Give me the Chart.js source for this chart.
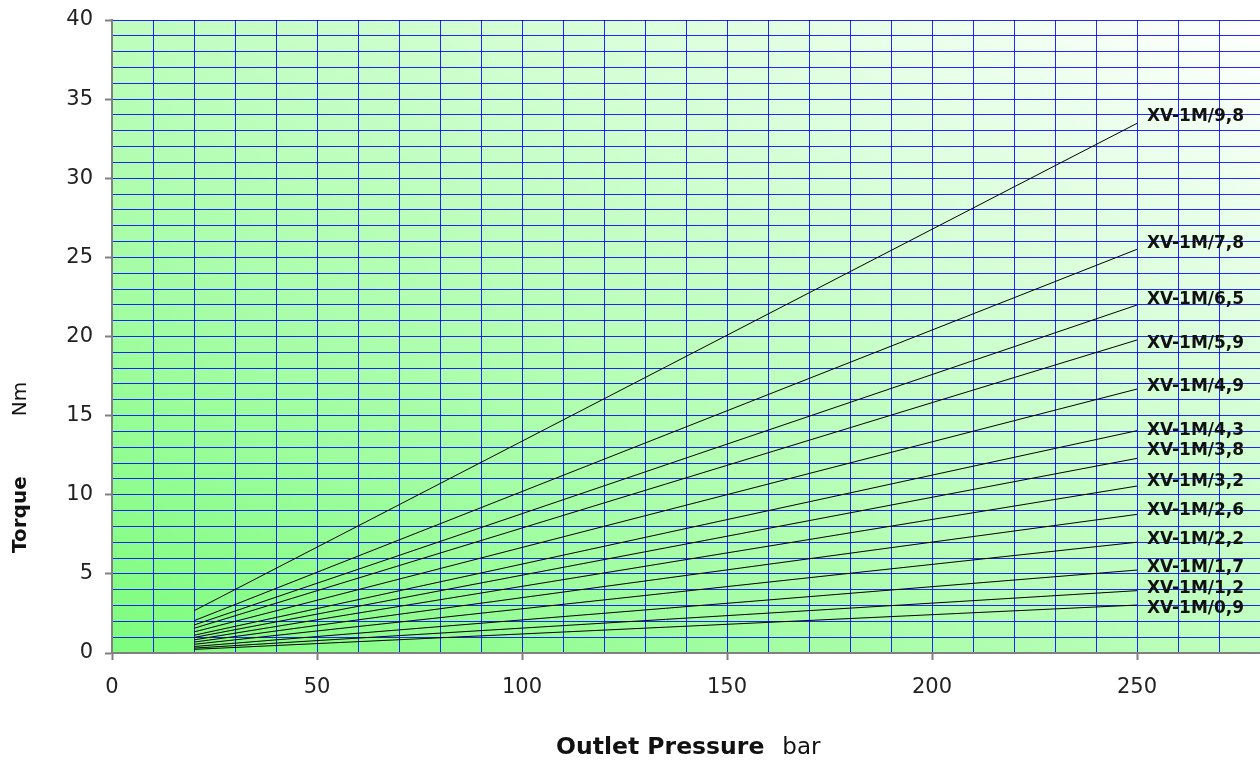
<!DOCTYPE html>
<html>
<head>
<meta charset="utf-8">
<title>Torque vs Outlet Pressure</title>
<script src="https://cdn.jsdelivr.net/npm/chart.js@4"></script>
<style>
    html, body { margin: 0; padding: 0; background: #fff; }
    #wrap { width: 1260px; height: 763px; position: relative; }
</style>
</head>
<body>
<div id="wrap"><canvas id="torque-chart"></canvas></div>
<script>
// ── Data ──────────────────────────────────────────
const pressures = [20, 250];   // bar

const models = [
    'XV-1M/9,8', 'XV-1M/7,8', 'XV-1M/6,5', 'XV-1M/5,9', 'XV-1M/4,9',
    'XV-1M/4,3', 'XV-1M/3,8', 'XV-1M/3,2', 'XV-1M/2,6', 'XV-1M/2,2',
    'XV-1M/1,7', 'XV-1M/1,2', 'XV-1M/0,9'
];

// torque (Nm) at 20 bar and at 250 bar
const torqueAt20  = [2.67, 2.04, 1.77, 1.56, 1.33, 1.12, 0.98, 0.83, 0.69, 0.55, 0.41, 0.31, 0.23];
const torqueAt250 = [33.47, 25.51, 21.99, 19.78, 16.68, 14.05, 12.30, 10.55, 8.76, 7.00, 5.24, 3.94, 3.03];

// where each model label sits (Nm), as placed in the reference
const labelTorque = [34.0, 26.0, 22.43, 19.67, 16.94, 14.15, 12.89, 10.93, 9.10, 7.29, 5.50, 4.19, 2.91];

const xTickLabels = [0, 50, 100, 150, 200, 250];
const yTickLabels = [0, 5, 10, 15, 20, 25, 30, 35, 40];

const FONT = "'DejaVu Sans', Verdana, sans-serif";
const GRID_BLUE = 'rgba(0, 0, 255, 0.85)';
const AXIS_GREY = '#808080';

// ── Plugins ───────────────────────────────────────
const plotBackground = {
    id: 'plotBackground',
    beforeDraw(chart) {
        const { ctx, chartArea: a } = chart;
        ctx.save();
        // diagonal gradient in normalised plot space: green bottom-left -> white top-right
        ctx.translate(a.left, a.bottom);
        ctx.scale(a.right - a.left, -(a.bottom - a.top));
        const g = ctx.createLinearGradient(0, 0, 1, 1);
        g.addColorStop(0, '#7dfd7d');
        g.addColorStop(1, '#ffffff');
        ctx.fillStyle = g;
        ctx.fillRect(0, 0, 1, 1);
        ctx.restore();
    }
};

const seriesLabels = {
    id: 'seriesLabels',
    afterDatasetsDraw(chart) {
        const { ctx, scales: { x, y } } = chart;
        ctx.save();
        ctx.font = 'bold 17px ' + FONT;
        ctx.fillStyle = '#111';
        ctx.textAlign = 'left';
        ctx.textBaseline = 'middle';
        const lastP = pressures[pressures.length - 1];
        models.forEach((name, i) => {
            ctx.fillText(name, x.getPixelForValue(lastP) + 10, y.getPixelForValue(labelTorque[i]) + 2);
        });
        ctx.restore();
    }
};

function drawMixed(ctx, parts, startX, baseY) {
    let cx = startX;
    parts.forEach(p => {
        ctx.font = p.font;
        ctx.fillText(p.text, cx, baseY);
        cx += ctx.measureText(p.text).width + (p.gap || 0);
    });
}

const axisTitles = {
    id: 'axisTitles',
    afterDraw(chart) {
        const { ctx } = chart;
        ctx.save();
        ctx.fillStyle = '#111';
        ctx.textAlign = 'left';
        ctx.textBaseline = 'middle';

        // x title
        drawMixed(ctx, [
            { text: 'Outlet Pressure', font: 'bold 23.5px ' + FONT, gap: 18 },
            { text: 'bar', font: '23px ' + FONT }
        ], 556, 748);

        // y title (rotated)
        ctx.translate(21, 553);
        ctx.rotate(-Math.PI / 2);
        drawMixed(ctx, [
            { text: 'Torque', font: 'bold 20px ' + FONT, gap: 60 },
            { text: 'Nm', font: '20px ' + FONT }
        ], 0, 0);
        ctx.restore();
    }
};

// ── Chart ─────────────────────────────────────────
const datasets = models.map((name, i) => ({
    label: name,
    data: [
        { x: pressures[0], y: torqueAt20[i] },
        { x: pressures[1], y: torqueAt250[i] }
    ],
    borderColor: '#000',
    borderWidth: 1,
    pointRadius: 0,
    tension: 0,
    fill: false
}));

const tickFont = { size: 21, family: FONT };

new Chart(document.getElementById('torque-chart'), {
    type: 'line',
    data: { datasets },
    options: {
        responsive: true,
        maintainAspectRatio: false,
        animation: false,
        layout: { padding: { top: 20, right: 0, left: 0, bottom: 0 } },
        plugins: {
            legend: { display: false },
            tooltip: { enabled: false }
        },
        scales: {
            x: {
                type: 'linear',
                min: 0,
                max: 280,
                afterFit(scale) {
                    scale.height = 110;
                    scale.paddingLeft = 0;
                    scale.paddingRight = 0;
                },
                ticks: {
                    stepSize: 10,
                    autoSkip: false,
                    maxRotation: 0,
                    padding: 15,
                    color: '#222',
                    font: tickFont,
                    callback: v => xTickLabels.includes(v) ? String(v) : ''
                },
                grid: {
                    color: GRID_BLUE,
                    lineWidth: 1,
                    tickLength: 7,
                    tickWidth: 2,
                    tickColor: c => (c.tick && xTickLabels.includes(c.tick.value)) ? AXIS_GREY : 'rgba(0,0,0,0)'
                },
                border: { color: AXIS_GREY, width: 2 }
            },
            y: {
                min: 0,
                max: 40,
                afterFit(scale) {
                    scale.width = 112;
                    scale.paddingTop = 0;
                    scale.paddingBottom = 0;
                },
                ticks: {
                    stepSize: 1,
                    autoSkip: false,
                    padding: 12,
                    color: '#222',
                    font: tickFont,
                    callback: v => yTickLabels.includes(v) ? String(v) : ''
                },
                grid: {
                    color: GRID_BLUE,
                    lineWidth: 1,
                    tickLength: 7,
                    tickWidth: 2,
                    tickColor: c => (c.tick && yTickLabels.includes(c.tick.value)) ? AXIS_GREY : 'rgba(0,0,0,0)'
                },
                border: { color: AXIS_GREY, width: 2 }
            }
        }
    },
    plugins: [plotBackground, seriesLabels, axisTitles]
});
</script>
</body>
</html>
